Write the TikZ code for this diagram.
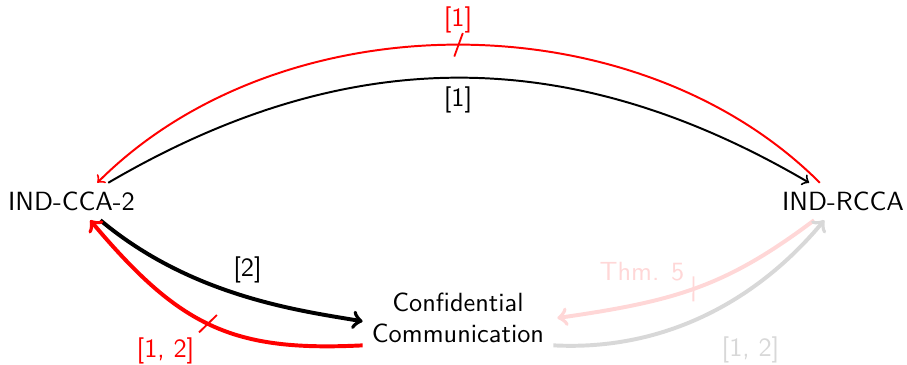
\documentclass[tikz,border=0pt]{standalone}
\usetikzlibrary{decorations.markings}
\renewcommand{\familydefault}{\sfdefault}
\definecolor{fadered}{RGB}{255,215,215}
\definecolor{fadegray}{RGB}{216,216,216}
\begin{document}
\begin{tikzpicture}[x=0.38pt,y=-0.38pt,
  every node/.style={font=\sffamily},
  thinarr/.style={->,line width=0.75pt},
  thickarr/.style={->,line width=1.5pt},
  slash/.style={postaction={decorate},decoration={markings,
    mark=at position 0.5 with {\draw[-,line width=0.7pt,#1] (-1.62pt,-4.46pt) -- (1.62pt,4.46pt);}}}
]
\path[use as bounding box] (0,0) rectangle (907,364);
% nodes
\node (cca) at (71.5,201.5) {IND-CCA-2};
\node (rcca) at (843,201.5) {IND-RCCA};
\node[align=center] (cc) at (458,318) {Confidential\\Communication};
% labels
\node[text=red] (l1r) at (458,20) {[1]};
\node (l1b) at (458,100) {[1]};
\node (l2) at (247.5,269.5) {[2]};
\node[text=red] (l12r) at (165.5,351) {[1, 2]};
\node[text=fadered] (thm) at (642,271.5) {Thm. 5};
\node[text=fadegray] (l12g) at (750.5,350) {[1, 2]};
% top arrows
\draw[thinarr] (cca.27) .. controls +(239,-140) and +(-239,-140) .. (rcca.151);
\draw[thinarr,red,slash=red] (rcca.141) .. controls +(-184,-184) and +(184,-184) .. (cca.36);
% left lower arrows
\draw[thickarr] (cca.-33) .. controls +(92,77) and +(-61,-10.4) .. (cc.182);
\draw[thickarr,red,slash=red] (cc.196) .. controls +(-130,6.5) and +(90,107) .. (cca.-45);
% right lower arrows
\draw[thickarr,fadered,slash=fadered] (rcca.-147) .. controls +(-88,66) and +(119,-17) .. ([xshift=1.5pt]cc.east);
\draw[thickarr,fadegray] (cc.-16) .. controls +(115,6) and +(-64,77) .. (rcca.-135);
\end{tikzpicture}
\end{document}
